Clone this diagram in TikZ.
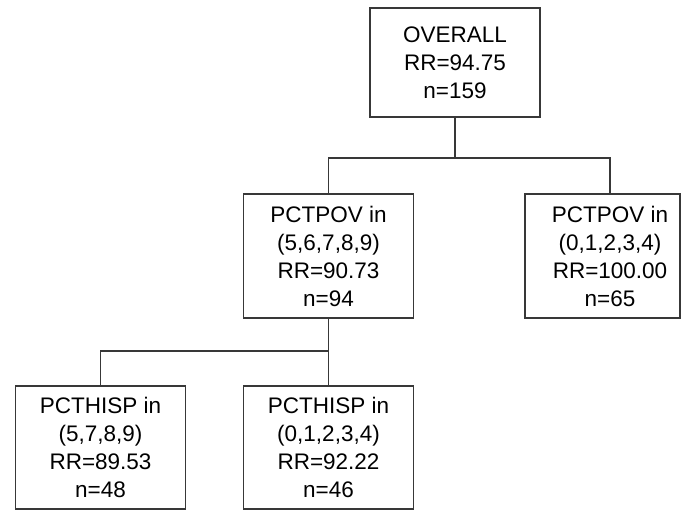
\documentclass[tikz,border=0pt]{standalone}
\usepackage{fontspec}
\setmainfont{Liberation Sans}
\usetikzlibrary{positioning}
\definecolor{edgegray}{rgb}{0.22,0.22,0.22}
\tikzstyle{tree_node} = [rectangle,draw=edgegray,line width=1.6pt,minimum width=170pt,minimum height=124pt,inner sep=0pt,align=center,font=\fontsize{22.5}{28}\selectfont]
\tikzstyle{tree_text} = [align=center,inner sep=0pt,font=\fontsize{22.5}{28}\selectfont]
\tikzstyle{tree_edge} = [draw=edgegray,line width=1.6pt]

\begin{document}
\begin{tikzpicture}[x=1pt,y=-1pt]
  \useasboundingbox (0,0) rectangle (681,511);
  \node (root) [tree_node,minimum height=109pt] at (455,62.5) {OVERALL\\RR=94.75\\n=159};
  \node (pov_lo) [tree_node] at (328.5,256) {PCTPOV in\\(5,6,7,8,9)\\RR=90.73\\n=94};
  \node (pov_hi) [tree_node,minimum width=155pt] at (602.5,256) {};
  \node (pov_hi_text) [tree_text] at (610,256) {PCTPOV in\\(0,1,2,3,4)\\RR=100.00\\n=65};
  \node (hisp_lo) [tree_node,minimum height=123pt] at (100.5,447.5) {PCTHISP in\\(5,7,8,9)\\RR=89.53\\n=48};
  \node (hisp_hi) [tree_node,minimum height=123pt] at (328.5,447.5) {PCTHISP in\\(0,1,2,3,4)\\RR=92.22\\n=46};
  % first split
  \draw [tree_edge] (root.south) -- ++(0,40) coordinate (j1);
  \draw [tree_edge] (j1) -| (pov_lo.north);
  \draw [tree_edge] (j1) -| (pov_hi.north -| pov_hi_text.north);
  % second split
  \draw [tree_edge] (pov_lo.south) -- ++(0,32) coordinate (j2);
  \draw [tree_edge] (j2) -| (hisp_lo.north);
  \draw [tree_edge] (j2) -- (hisp_hi.north);
\end{tikzpicture}
\end{document}
